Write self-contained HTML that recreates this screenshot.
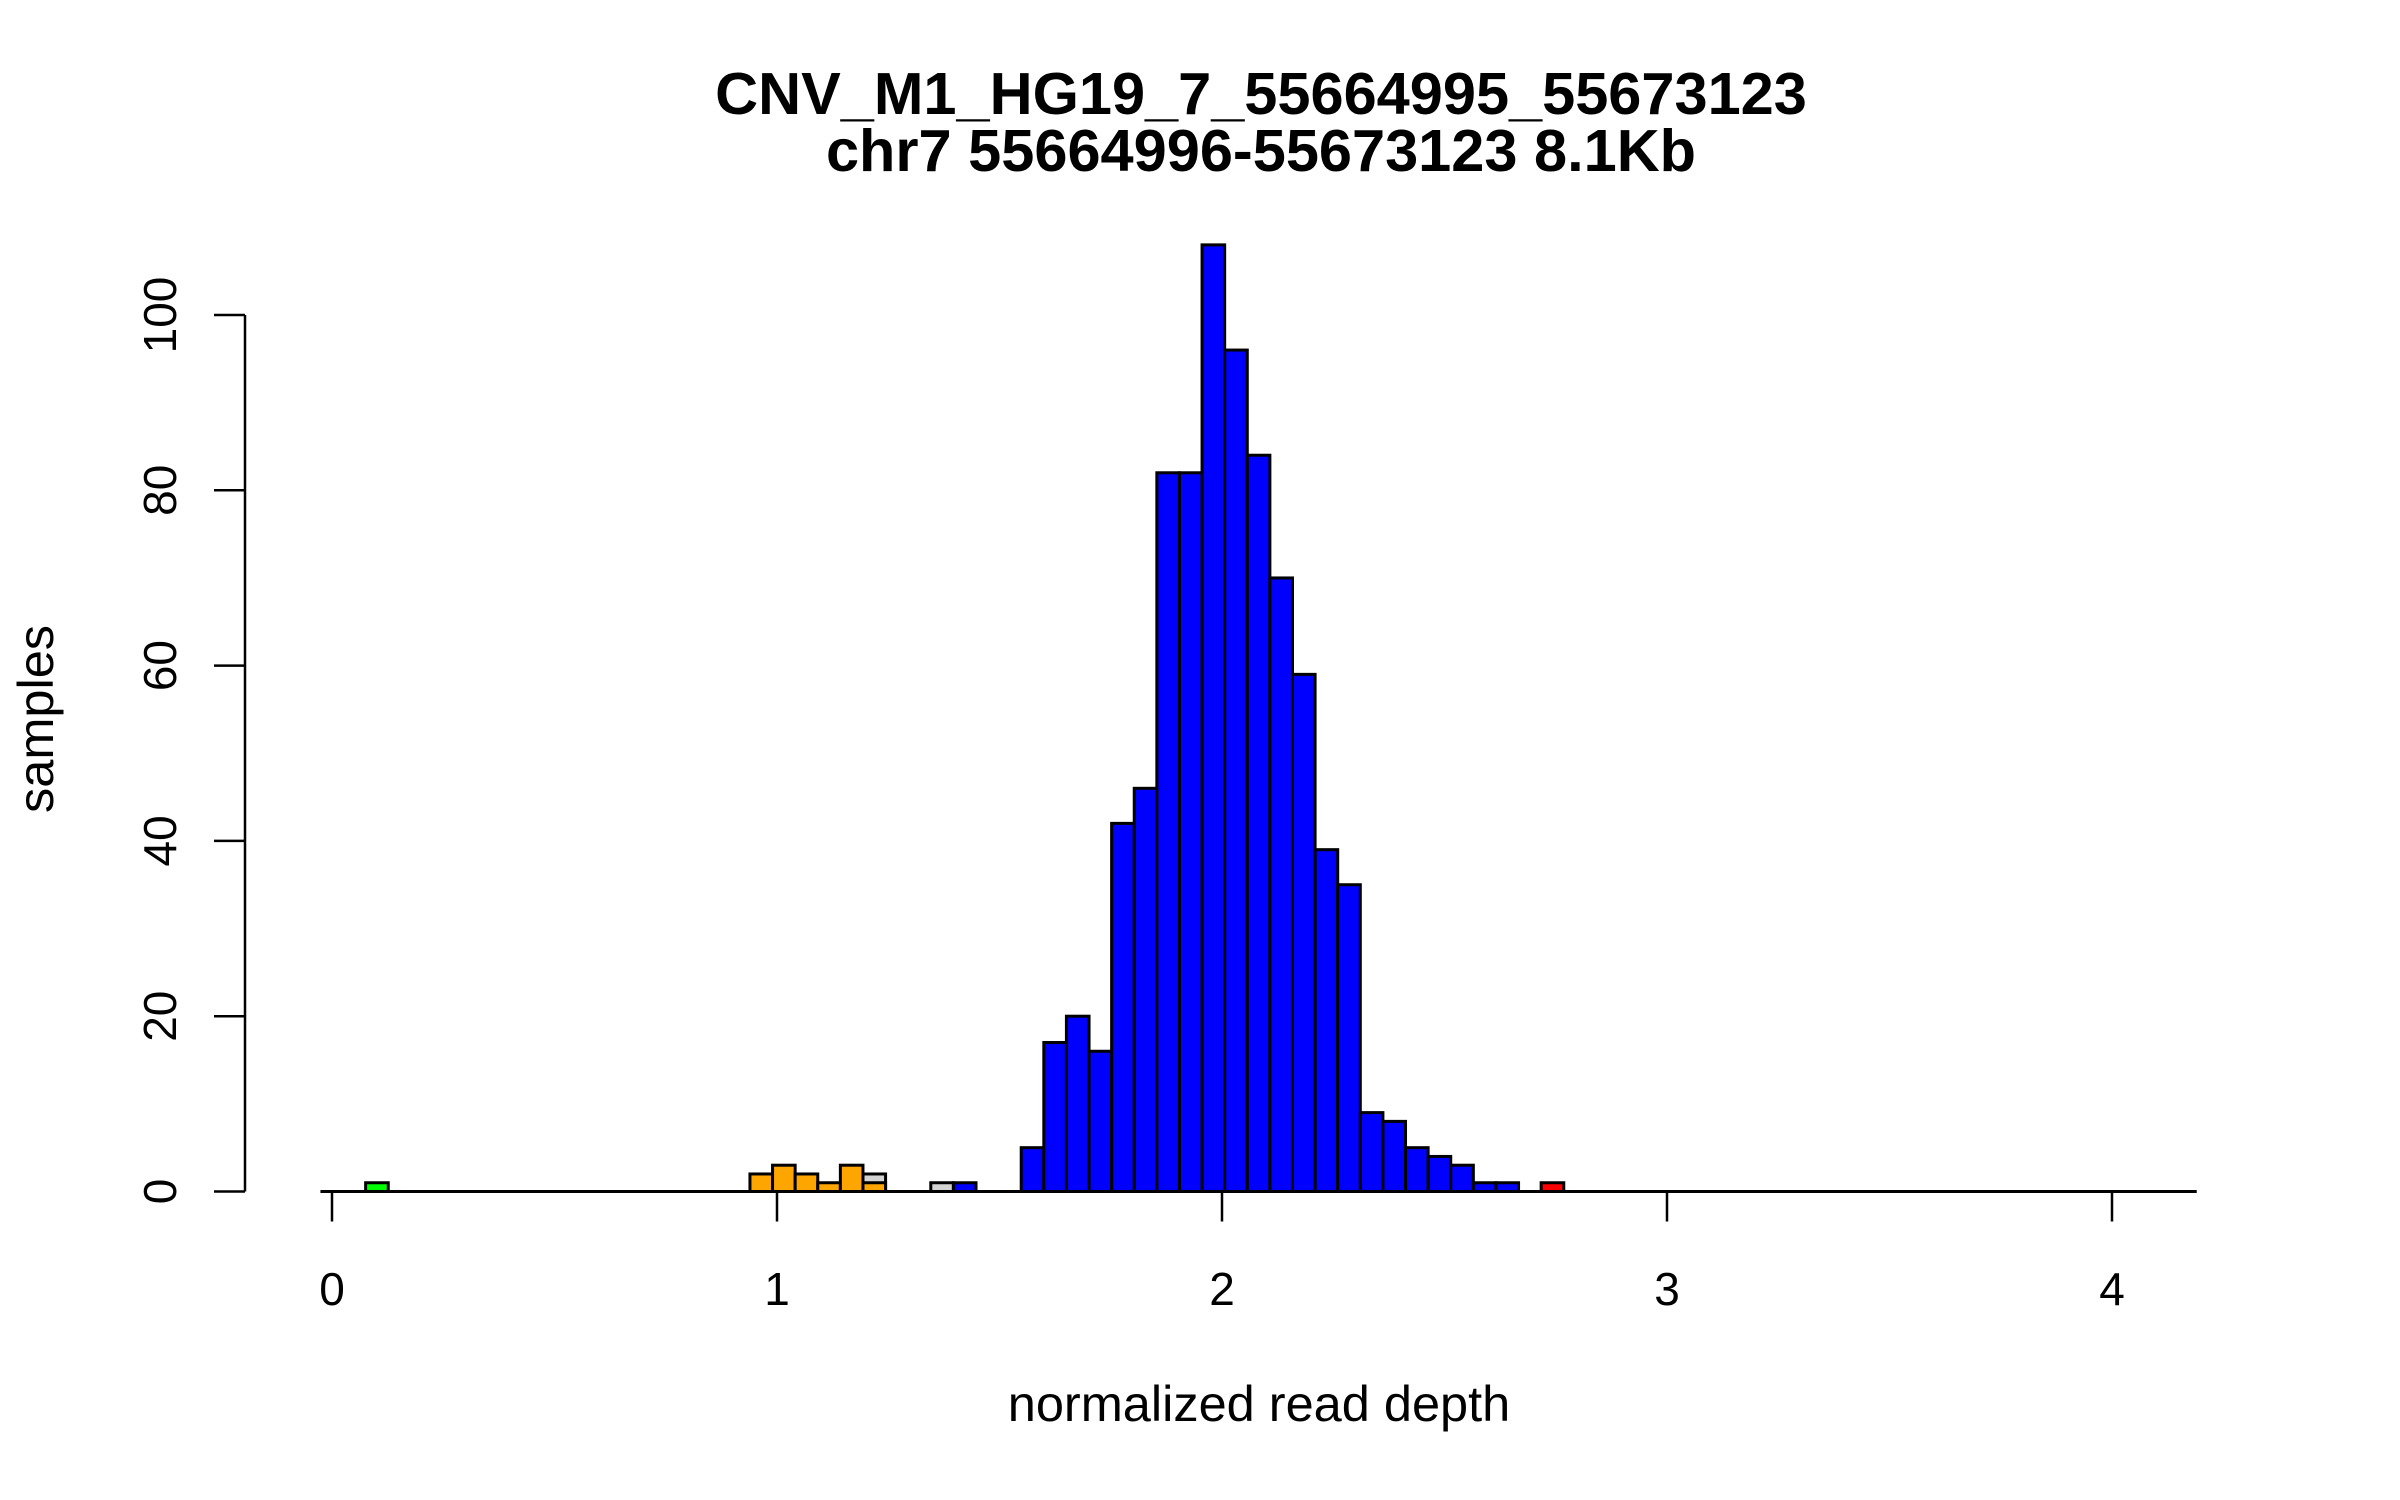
<!DOCTYPE html>
<html><head><meta charset="utf-8"><style>
html,body{margin:0;padding:0;background:#fff;}
svg{display:block;font-family:"Liberation Sans",Arial,sans-serif;}
</style></head><body>
<svg id="chart" width="2400" height="1500" viewBox="0 0 2400 1500" xmlns="http://www.w3.org/2000/svg">
<rect width="2400" height="1500" fill="#fff"/>
<text x="1261" y="114" font-size="59.5" font-weight="bold" text-anchor="middle">CNV_M1_HG19_7_55664995_55673123</text>
<text x="1261" y="171" font-size="59.5" font-weight="bold" text-anchor="middle">chr7 55664996-55673123 8.1Kb</text>
<text x="1259" y="1421" font-size="50.5" text-anchor="middle">normalized read depth</text>
<text transform="translate(53,719) rotate(-90)" font-size="50.5" text-anchor="middle">samples</text>
<g id="bars"></g>
<g id="axes"></g>
</svg>
<script>
// histogram bins: left edge = binStart + index * binWidth
const binStart = -0.026;
const binWidth = 0.0508;
const nBins = 83;
const greenBins = [2];
const greenCounts = [1];
const greyBins = [24, 27];
const greyCounts = [2, 1];
const orangeBins = [19, 20, 21, 22, 23, 24];
const orangeCounts = [2, 3, 2, 1, 3, 1];
const blueBins = [28, 31, 32, 33, 34, 35, 36, 37, 38, 39, 40, 41, 42, 43, 44, 45, 46, 47, 48, 49, 50, 51, 52];
const blueCounts = [1, 5, 17, 20, 16, 42, 46, 82, 82, 108, 96, 84, 70, 59, 39, 35, 9, 8, 5, 4, 3, 1, 1];
const redBins = [54];
const redCounts = [1];
const xTicks = [0, 1, 2, 3, 4];
const yTicks = [0, 20, 40, 60, 80, 100];

const NS = "http://www.w3.org/2000/svg";
function xs(v){ return 332 + v * 445; }
function ys(v){ return 1191.5 - v * (1191.5 - 315) / 100; }
function binLeft(i){ return binStart + i * binWidth; }
const barsG = document.getElementById('bars');
const axesG = document.getElementById('axes');
function mk(tag, attrs, parent){
  const e = document.createElementNS(NS, tag);
  for (const k in attrs) e.setAttribute(k, attrs[k]);
  parent.appendChild(e);
  return e;
}
const base = mk('line', {x1: xs(binLeft(0)), x2: xs(binLeft(nBins)), y1: ys(0), y2: ys(0), stroke: '#000', 'stroke-width': 3}, barsG);


function drawSeries(bins, counts, color, name){
  for (let i = 0; i < bins.length; i++){
    const x0 = xs(binLeft(bins[i])), x1 = xs(binLeft(bins[i] + 1));
    const r = mk('rect', {x: x0, y: ys(counts[i]), width: x1 - x0, height: ys(0) - ys(counts[i]), fill: color, stroke: '#000', 'stroke-width': 3}, barsG);
    
    
  }
}
drawSeries(greyBins, greyCounts, '#d3d3d3', 'grey');
drawSeries(greenBins, greenCounts, '#00ff00', 'green');
drawSeries(orangeBins, orangeCounts, '#ffa500', 'orange');
drawSeries(blueBins, blueCounts, '#0000ff', 'blue');
drawSeries(redBins, redCounts, '#ff0000', 'red');

const xl = mk('line', {x1: xs(xTicks[0]), x2: xs(xTicks[xTicks.length-1]), y1: ys(0), y2: ys(0), stroke: '#000', 'stroke-width': 3}, axesG);


xTicks.forEach(t => {
  const tk = mk('line', {x1: xs(t), x2: xs(t), y1: ys(0), y2: ys(0) + 30, stroke: '#000', 'stroke-width': 2.5}, axesG);
  
  
  const lb = mk('text', {x: xs(t), y: 1305, 'font-size': 46, 'text-anchor': 'middle'}, axesG);
  lb.textContent = t;
  
  
});
const yl = mk('line', {x1: 245, x2: 245, y1: ys(yTicks[0]), y2: ys(yTicks[yTicks.length-1]), stroke: '#000', 'stroke-width': 2.5}, axesG);


yTicks.forEach(t => {
  const tk = mk('line', {x1: 214, x2: 245, y1: ys(t), y2: ys(t), stroke: '#000', 'stroke-width': 2.5}, axesG);
  
  
  const lb = mk('text', {transform: 'translate(176,' + ys(t) + ') rotate(-90)', 'font-size': 46, 'text-anchor': 'middle'}, axesG);
  lb.textContent = t;
  
  
});
</script>
</body></html>
